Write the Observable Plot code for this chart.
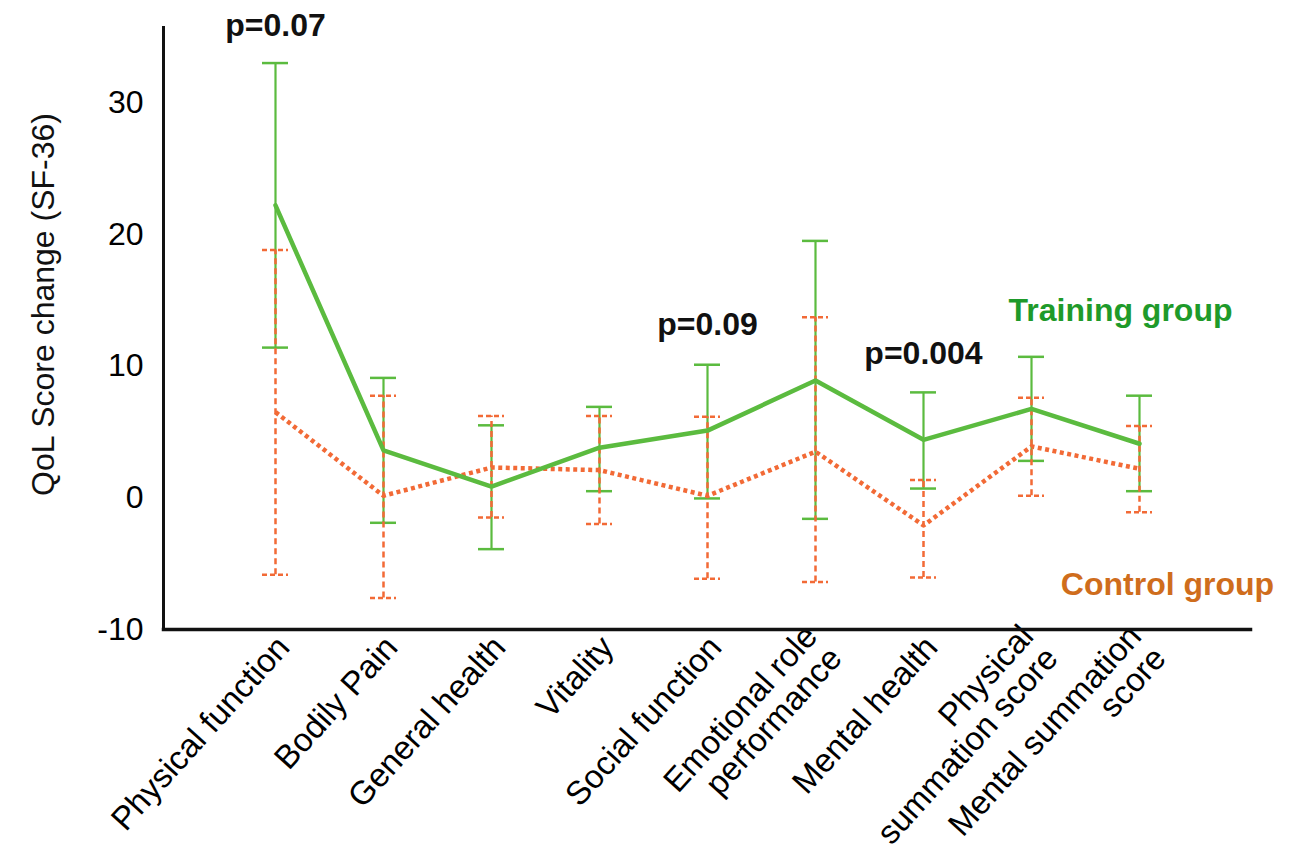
<!DOCTYPE html>
<html>
<head>
<meta charset="utf-8">
<script src="https://cdn.jsdelivr.net/npm/d3@7"></script>
<script src="https://cdn.jsdelivr.net/npm/@observablehq/plot@0.6"></script>
<style>
  html, body { margin: 0; padding: 0; background: white; }
</style>
</head>
<body>
<div id="chart"></div>
<script>
const categories = ["Physical function", "Bodily Pain", "General health", "Vitality", "Social function",
  "Emotional role\nperformance", "Mental health", "Physical\nsummation score", "Mental summation\nscore"];
const trainMean  = [22.2, 3.6, 0.85, 3.8, 5.1, 8.9, 4.4, 6.75, 4.1];
const trainUpper = [33.0, 9.1, 5.5, 6.9, 10.1, 19.5, 8.0, 10.7, 7.75];
const trainLower = [11.4, -1.9, -3.9, 0.5, -0.05, -1.6, 0.7, 2.8, 0.5];
const ctrlMean   = [6.5, 0.15, 2.3, 2.1, 0.15, 3.5, -2.1, 3.9, 2.2];
const ctrlUpper  = [18.8, 7.75, 6.2, 6.2, 6.15, 13.7, 1.35, 7.6, 5.45];
const ctrlLower  = [-5.85, -7.6, -1.5, -2.0, -6.15, -6.4, -6.05, 0.15, -1.1];
const yTicks = [-10, 0, 10, 20, 30];
const yLabel = "QoL Score change (SF-36)";
const pTexts = ["p=0.07", "p=0.09", "p=0.004"];
const pCategories = [categories[0], categories[4], categories[6]];
const pValuesY = [35.8, 13.1, 10.9];
const seriesNames = ["Training group", "Control group"];
const seriesLabelY = [14.2, -6.6];

const train = categories.map((c, i) => ({cat: c, mean: trainMean[i], lo: trainLower[i], hi: trainUpper[i]}));
const ctrl = categories.map((c, i) => ({cat: c, mean: ctrlMean[i], lo: ctrlLower[i], hi: ctrlUpper[i]}));
const pNotes = pTexts.map((t, i) => ({text: t, cat: pCategories[i], y: pValuesY[i]}));

const GREEN = "#5bbb3f";
const ORANGE = "#f26a36";

const chart = Plot.plot({
  width: 1307,
  height: 864,
  marginLeft: 163,
  marginRight: 57,
  marginTop: 27,
  marginBottom: 235,
  style: {fontFamily: "'Liberation Sans', Arial, sans-serif", fontSize: "32px", background: "white", color: "black", overflow: "visible"},
  x: {type: "band", domain: categories, paddingInner: 0.76, paddingOuter: 0.88, label: null},
  y: {domain: [-10, 35.7], label: null},
  marks: [
    Plot.axisY({ticks: yTicks, tickFormat: d => String(d), tickSize: 0, tickPadding: 20, fontSize: 32, label: null}),
    Plot.axisX({tickSize: 0, tickRotate: -48, tickPadding: 12, dx: 8, fontSize: 33, label: null}),
    // training error bars
    Plot.ruleX(train, {x: "cat", y1: "lo", y2: "hi", stroke: GREEN, strokeWidth: 2.2}),
    Plot.tickY(train, {x: "cat", y: "hi", stroke: GREEN, strokeWidth: 2.5}),
    Plot.tickY(train, {x: "cat", y: "lo", stroke: GREEN, strokeWidth: 2.5}),
    // control error bars
    Plot.ruleX(ctrl, {x: "cat", y1: "lo", y2: "hi", stroke: ORANGE, strokeWidth: 2.5, strokeDasharray: "6,4"}),
    Plot.tickY(ctrl, {x: "cat", y: "hi", stroke: ORANGE, strokeWidth: 2.5, strokeDasharray: "5,3"}),
    Plot.tickY(ctrl, {x: "cat", y: "lo", stroke: ORANGE, strokeWidth: 2.5, strokeDasharray: "5,3"}),
    // mean lines
    Plot.line(ctrl, {x: "cat", y: "mean", stroke: ORANGE, strokeWidth: 4.5, strokeDasharray: "4,3.5", strokeLinecap: "butt"}),
    Plot.line(train, {x: "cat", y: "mean", stroke: GREEN, strokeWidth: 4.5}),
    // axes lines
    Plot.frame({anchor: "left", strokeWidth: 3, stroke: "#111"}),
    Plot.frame({anchor: "bottom", strokeWidth: 3.5, stroke: "#111"}),
    // p-values
    Plot.text(pNotes, {x: "cat", y: "y", text: "text", fontWeight: "bold", fontSize: 32, fill: "#111"}),
    // series labels
    Plot.text([seriesNames[0]], {x: () => categories[8], y: () => seriesLabelY[0], text: d => d, dx: -19, fontWeight: "bold", fontSize: 32, fill: "#1e9a2a"}),
    Plot.text([seriesNames[1]], {x: () => categories[8], y: () => seriesLabelY[1], text: d => d, dx: 28, fontWeight: "bold", fontSize: 32, fill: "#cf6d1c"}),
    // y label
    Plot.text([yLabel], {frameAnchor: "left", textAnchor: "middle", rotate: -90, dx: -120, dy: -24, fontSize: 32, text: d => d, fill: "#111"})
  ]
});
document.getElementById("chart").appendChild(chart);
</script>
</body>
</html>
